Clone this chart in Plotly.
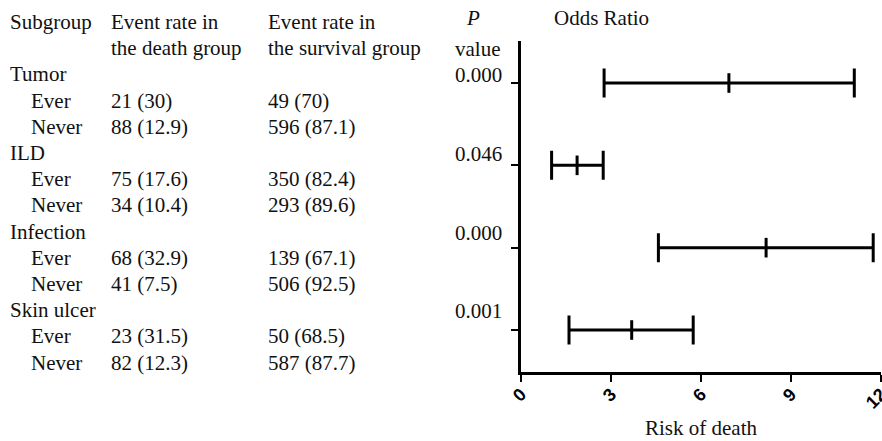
import plotly.graph_objects as go

# ---------------- data ----------------
subgroups = ["Tumor", "ILD", "Infection", "Skin ulcer"]
levels = ["Ever", "Never"]
death_ever = ["21 (30)", "75 (17.6)", "68 (32.9)", "23 (31.5)"]
death_never = ["88 (12.9)", "34 (10.4)", "41 (7.5)", "82 (12.3)"]
surv_ever = ["49 (70)", "350 (82.4)", "139 (67.1)", "50 (68.5)"]
surv_never = ["596 (87.1)", "293 (89.6)", "506 (92.5)", "587 (87.7)"]
p_values = ["0.000", "0.046", "0.000", "0.001"]
or_point = [6.93, 1.87, 8.17, 3.69]
ci_low = [2.77, 1.02, 4.58, 1.60]
ci_high = [11.11, 2.74, 11.74, 5.74]
x_ticks = [0, 3, 6, 9, 12]

W, H = 882, 441
FONT = "Liberation Serif, Times New Roman, serif"
row_pos = list(range(1, len(subgroups) + 1))

fig = go.Figure()
fig.add_trace(go.Scatter(
    x=or_point, y=row_pos, mode="markers",
    marker=dict(symbol="line-ns", size=14, color="black",
                line=dict(color="black", width=3)),
    error_x=dict(type="data", symmetric=False,
                 array=[h - p for h, p in zip(ci_high, or_point)],
                 arrayminus=[p - l for l, p in zip(ci_low, or_point)],
                 color="black", thickness=3, width=14.5),
    showlegend=False, hoverinfo="skip"))

def px_x(v):
    return v / W

def px_y(v):
    return 1 - v / H

ann = []
def txt(x, y, s, size=21, italic=False, xanchor="left"):
    ann.append(dict(x=px_x(x), y=px_y(y), xref="paper", yref="paper",
                    text=s, showarrow=False, xanchor=xanchor, yanchor="middle",
                    font=dict(family=FONT, size=size, color="#111",
                              style="italic" if italic else "normal")))

# headers
txt(8, 22, "Subgroup")
txt(109, 22, "Event rate in")
txt(109, 48, "the death group")
txt(266, 22, "Event rate in")
txt(266, 48, "the survival group")
txt(464, 18, "P", italic=True)
txt(453, 49, "value")
txt(552, 18, "Odds Ratio")

row_h = 26.2
y0 = 22 + 2 * row_h
for i, g in enumerate(subgroups):
    yg = y0 + i * 3 * row_h
    txt(8, yg, g)
    txt(453, yg + 1, p_values[i])
    ye = yg + row_h
    yn = yg + 2 * row_h
    txt(29, ye, levels[0])
    txt(29, yn, levels[1])
    txt(109, ye, death_ever[i])
    txt(109, yn, death_never[i])
    txt(266, ye, surv_ever[i])
    txt(266, yn, surv_never[i])

txt(701, 428, "Risk of death", xanchor="center")

fig.update_layout(
    width=W, height=H, margin=dict(l=0, r=0, t=0, b=0),
    paper_bgcolor="white", plot_bgcolor="white",
    annotations=ann,
    xaxis=dict(domain=[521 / W, 881 / W], range=[0, 12],
               tickvals=x_ticks, ticktext=[str(t) for t in x_ticks],
               tickangle=-45, showgrid=False, zeroline=False,
               showline=True, linecolor="black", linewidth=2.5,
               ticks="outside", ticklen=7, tickwidth=2, tickcolor="black",
               ticklabeloverflow="allow", ticklabelstandoff=-5,
               tickfont=dict(family="Liberation Sans, Arial", size=18,
                             color="black", weight="bold"),
               automargin=False),
    yaxis=dict(domain=[(H - 372) / H, (H - 41) / H], range=[4.51, 0.49],
               tickvals=row_pos, showticklabels=False, showgrid=False,
               zeroline=False, showline=True, linecolor="black",
               linewidth=2.5, ticks="outside", ticklen=7, tickwidth=2,
               tickcolor="black", automargin=False),
)

fig.write_html("out.html", config={"displayModeBar": False},
               post_script="document.body.style.margin='0';document.body.style.overflow='hidden';")
